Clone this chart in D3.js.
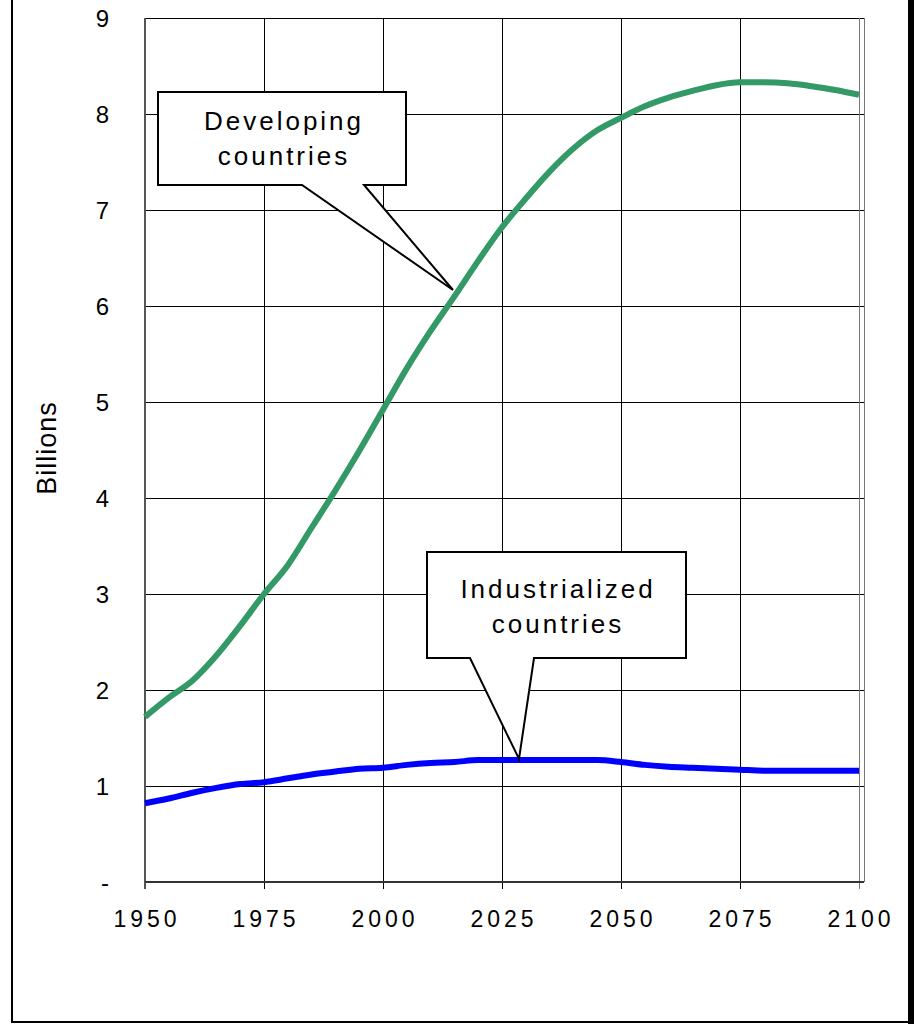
<!DOCTYPE html>
<html>
<head>
<meta charset="utf-8">
<script src="https://cdn.jsdelivr.net/npm/d3@7"></script>
<style>
  body { margin: 0; background: #fff; }
  svg { display: block; font-family: "Liberation Sans", Arial, sans-serif; }
</style>
</head>
<body>
<div id="chart"></div>
<script>
const years = [1950,1955,1960,1965,1970,1975,1980,1985,1990,1995,2000,2005,2010,2015,2020,2025,2030,2035,2040,2045,2050,2055,2060,2065,2070,2075,2080,2085,2090,2095,2100]
const developing = [1.72,1.92,2.10,2.36,2.67,3.00,3.30,3.69,4.08,4.49,4.92,5.35,5.74,6.10,6.47,6.82,7.12,7.40,7.64,7.83,7.96,8.08,8.17,8.24,8.30,8.33,8.33,8.32,8.29,8.25,8.20]
const industrialized = [0.82,0.87,0.93,0.98,1.02,1.04,1.08,1.12,1.15,1.18,1.19,1.22,1.24,1.25,1.27,1.27,1.27,1.27,1.27,1.27,1.25,1.22,1.20,1.19,1.18,1.17,1.16,1.16,1.16,1.16,1.16]
const xTicks = [1950,1975,2000,2025,2050,2075,2100]
const yTicks = [0,1,2,3,4,5,6,7,8,9]
const yTickLabels = ["-","1","2","3","4","5","6","7","8","9"]

const width = 914, height = 1024

const svg = d3.select("#chart").append("svg")
    .attr("width", width).attr("height", height)

// outer frame
svg.append("rect").attr("x", 12).attr("y", -5).attr("width", 898).attr("height", 1027)
    .attr("fill", "none").attr("stroke", "#000").attr("stroke-width", 2)
svg.append("rect").attr("x", 908).attr("y", 0).attr("width", 6).attr("height", 1024).attr("fill", "#000")

const x = d3.scaleLinear().domain([1950, 2100]).range([145, 859])
const y = d3.scaleLinear().domain([0, 9]).range([882, 18])
const px = v => Math.round(v) + 0.5

// grid
svg.append("g").selectAll("line").data(yTicks.slice(1)).enter().append("line")
    .attr("x1", x(1950)).attr("x2", 864)
    .attr("y1", d => px(y(d))).attr("y2", d => px(y(d)))
    .attr("stroke", "#000").attr("stroke-width", 1)
svg.append("g").selectAll("line").data(xTicks.slice(1, -1)).enter().append("line")
    .attr("x1", d => px(x(d))).attr("x2", d => px(x(d)))
    .attr("y1", y(9)).attr("y2", y(0) + 7)
    .attr("stroke", "#000").attr("stroke-width", 1)
// right edge: 2100 grid and plot border
svg.append("line").attr("x1", px(x(2100))).attr("x2", px(x(2100))).attr("y1", y(9)).attr("y2", y(0) + 7)
    .attr("stroke", "#777").attr("stroke-width", 1)
svg.append("line").attr("x1", 864.5).attr("x2", 864.5).attr("y1", y(9)).attr("y2", y(0))
    .attr("stroke", "#777").attr("stroke-width", 1)

// axes
svg.append("line").attr("x1", x(1950)).attr("x2", x(1950)).attr("y1", y(9)).attr("y2", y(0) + 7)
    .attr("stroke", "#555").attr("stroke-width", 2)
svg.append("line").attr("x1", x(1950)).attr("x2", 864).attr("y1", y(0)).attr("y2", y(0))
    .attr("stroke", "#333").attr("stroke-width", 2)

svg.append("g").selectAll("text").data(yTicks).enter().append("text")
    .attr("x", 109).attr("y", d => y(d) + 9)
    .attr("text-anchor", "end").attr("font-size", 24)
    .text((d, i) => yTickLabels[i])

svg.append("g").selectAll("text").data(xTicks).enter().append("text")
    .attr("x", d => x(d) + 2).attr("y", 927)
    .attr("text-anchor", "middle").attr("font-size", 23).attr("letter-spacing", 4)
    .text(d => d)

svg.append("text").attr("transform", "translate(56,448) rotate(-90)")
    .attr("text-anchor", "middle").attr("font-size", 27).attr("letter-spacing", 1)
    .text("Billions")

// lines
const line = d3.line().x((d, i) => x(years[i])).y(d => y(d)).curve(d3.curveMonotoneX)
svg.append("path").datum(developing).attr("d", line)
    .attr("fill", "none").attr("stroke", "#339966").attr("stroke-width", 6)
svg.append("path").datum(industrialized).attr("d", line)
    .attr("fill", "none").attr("stroke", "#0000ff").attr("stroke-width", 6)

// callouts
function callout(box, base, tip, lines, tx, ty) {
  const [x0, y0, x1, y1] = box
  const pts = [[x0,y0],[x1,y0],[x1,y1],[base[1],y1],tip,[base[0],y1],[x0,y1]]
  svg.append("path").attr("d", "M" + pts.join("L") + "Z")
      .attr("fill", "#fff").attr("stroke", "#000").attr("stroke-width", 2)
  lines.forEach((t, i) => {
    svg.append("text").attr("x", tx).attr("y", ty + i * 35)
        .attr("text-anchor", "middle").attr("font-size", 26).attr("letter-spacing", 3)
        .text(t)
  })
}
callout([158, 92, 406, 185], [302, 364], [453, 290], ["Developing", "countries"], 284, 130)
callout([427, 552, 686, 658], [470, 534], [519, 759], ["Industrialized", "countries"], 558, 598)
</script>
</body>
</html>
